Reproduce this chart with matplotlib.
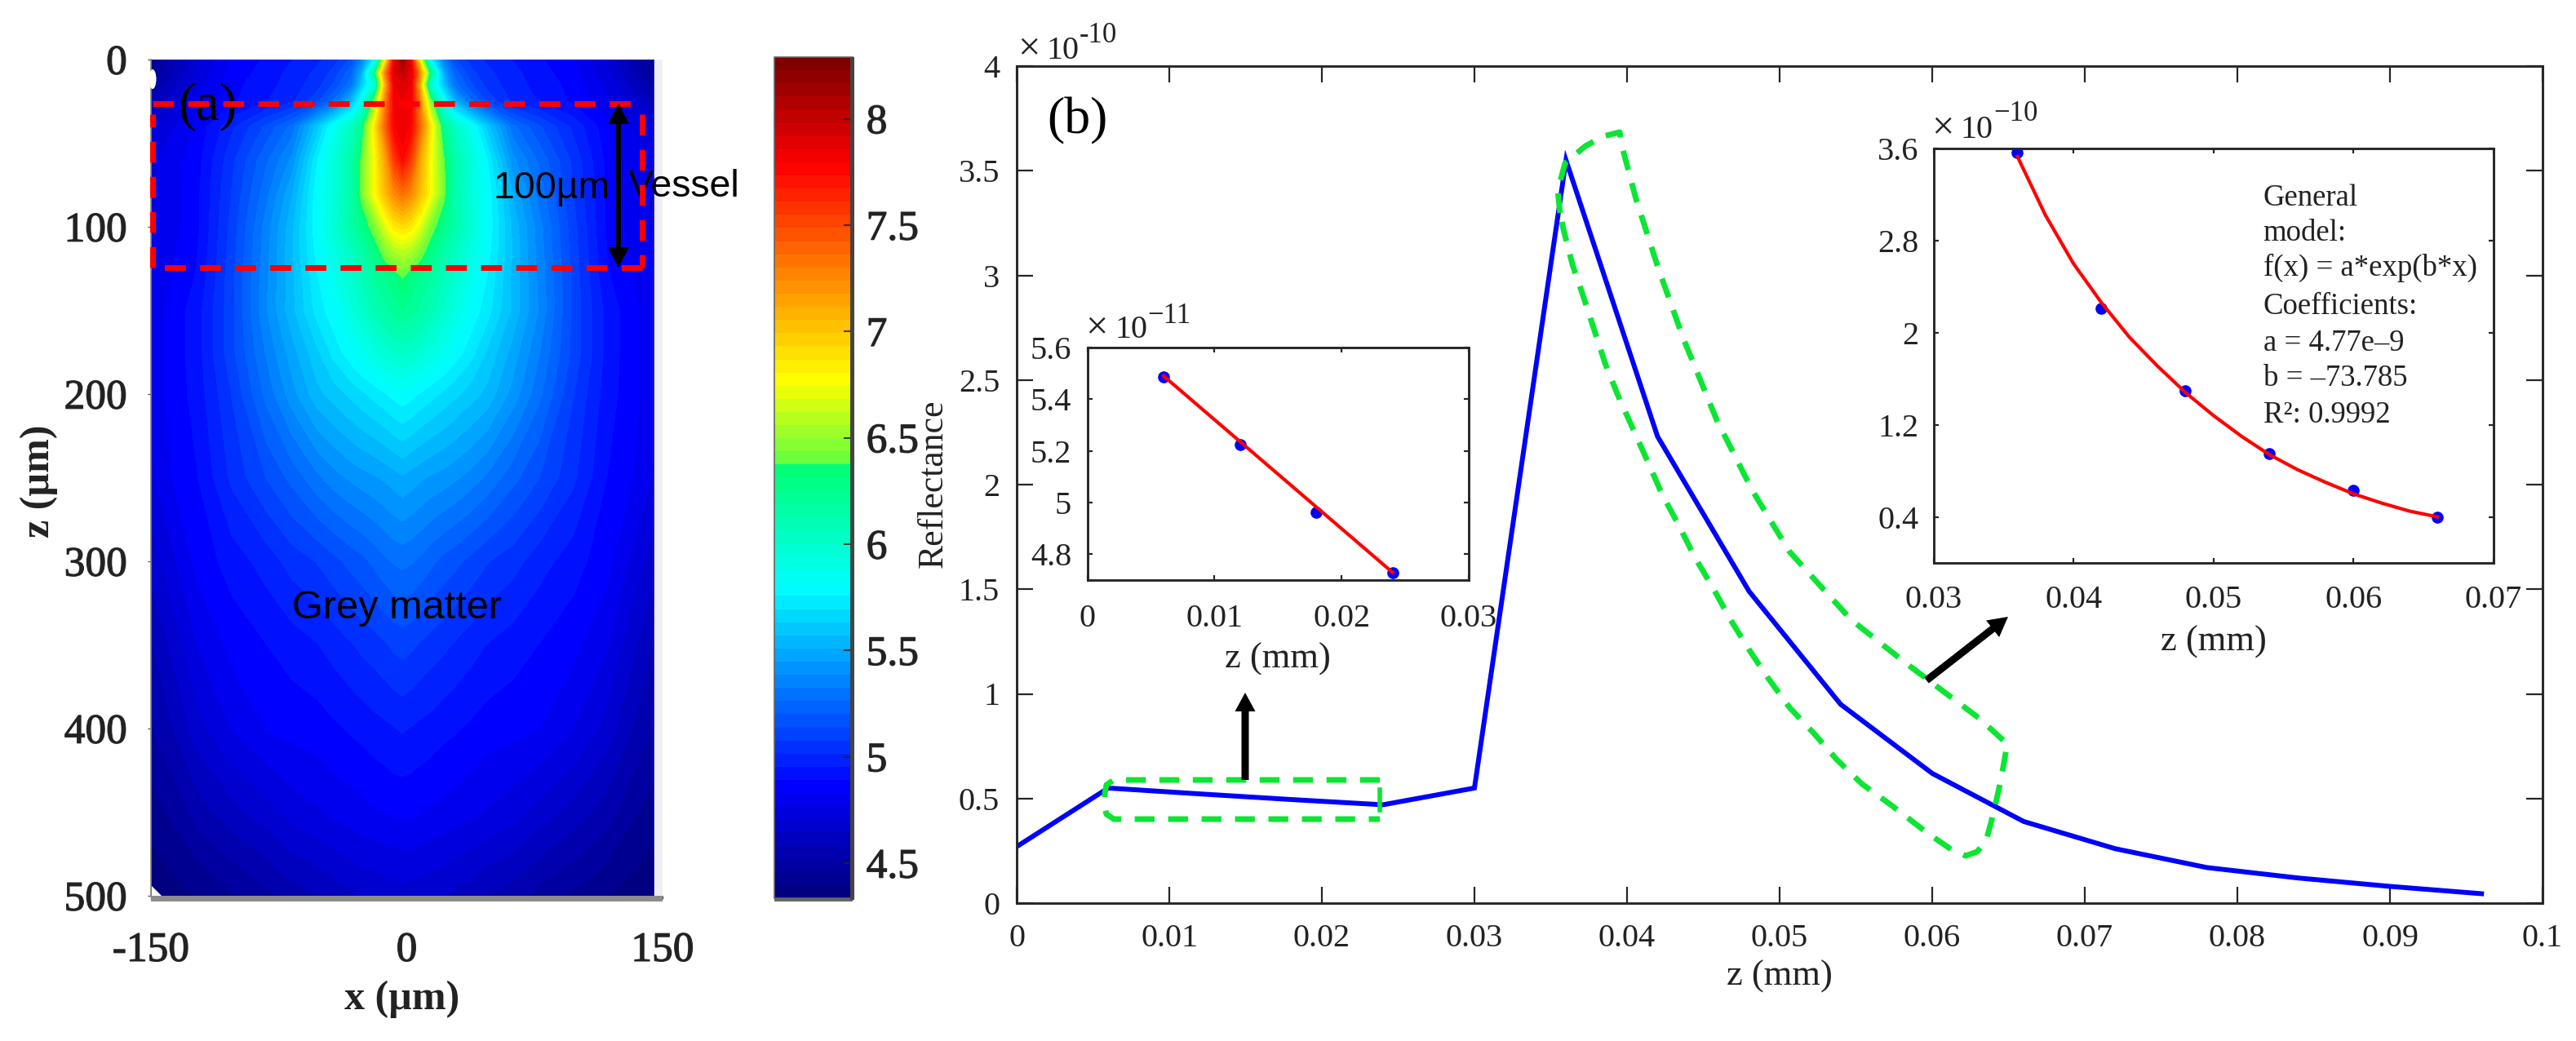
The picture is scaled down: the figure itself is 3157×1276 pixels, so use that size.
import matplotlib
matplotlib.use('Agg')
import matplotlib.pyplot as plt
import matplotlib.patheffects as pe
from matplotlib.colors import LinearSegmentedColormap
from matplotlib.patches import Ellipse, FancyArrow, Polygon, Rectangle
import numpy as np

W, H = 3157, 1276
plt.rcParams['font.family'] = 'Liberation Serif'

# panel (a): values, one half of the plume, mirrored about its centre
plume_offset = [0, 5, 10, 16, 24, 30, 40, 50, 65, 80, 100, 120, 135, 150]
plume_depth = [0, 8, 15, 25, 40, 60, 80, 100, 115, 130, 150, 175, 200, 250, 300, 350, 400, 450, 500]
plume_values = [
    [8.20, 7.80, 6.80, 5.80, 5.35, 5.15, 5.05, 5.00, 4.95, 4.90, 4.84, 4.70, 4.55, 4.40],
    [8.00, 7.90, 7.30, 6.30, 5.50, 5.25, 5.10, 5.03, 4.97, 4.92, 4.85, 4.72, 4.58, 4.42],
    [7.90, 7.85, 7.10, 6.00, 5.60, 5.30, 5.15, 5.05, 4.98, 4.93, 4.87, 4.75, 4.62, 4.47],
    [7.85, 7.80, 7.30, 6.50, 5.85, 5.55, 5.28, 5.12, 5.00, 4.95, 4.88, 4.78, 4.68, 4.55],
    [7.85, 7.78, 7.40, 6.90, 6.25, 6.05, 5.85, 5.60, 5.28, 5.15, 5.00, 4.85, 4.76, 4.68],
    [7.75, 7.55, 7.15, 6.80, 6.40, 6.15, 5.95, 5.75, 5.40, 5.25, 5.06, 4.87, 4.80, 4.75],
    [7.35, 7.25, 7.05, 6.80, 6.42, 6.15, 5.95, 5.80, 5.50, 5.30, 5.08, 4.88, 4.80, 4.75],
    [6.90, 6.85, 6.70, 6.45, 6.27, 6.15, 5.97, 5.80, 5.55, 5.35, 5.10, 4.88, 4.80, 4.75],
    [6.60, 6.55, 6.45, 6.30, 6.15, 6.05, 5.92, 5.78, 5.56, 5.36, 5.11, 4.89, 4.82, 4.77],
    [6.38, 6.30, 6.25, 6.20, 6.07, 6.00, 5.87, 5.75, 5.55, 5.37, 5.12, 4.90, 4.83, 4.77],
    [6.25, 6.22, 6.17, 6.10, 6.00, 5.93, 5.80, 5.72, 5.55, 5.38, 5.12, 4.93, 4.85, 4.78],
    [6.02, 6.00, 5.97, 5.92, 5.85, 5.80, 5.72, 5.62, 5.48, 5.33, 5.12, 4.93, 4.85, 4.78],
    [5.80, 5.78, 5.75, 5.72, 5.68, 5.65, 5.60, 5.55, 5.42, 5.28, 5.08, 4.92, 4.85, 4.78],
    [5.50, 5.48, 5.46, 5.44, 5.42, 5.40, 5.36, 5.31, 5.22, 5.14, 5.03, 4.89, 4.83, 4.74],
    [5.28, 5.27, 5.25, 5.22, 5.18, 5.16, 5.12, 5.08, 5.04, 4.98, 4.92, 4.85, 4.75, 4.65],
    [5.10, 5.09, 5.07, 5.05, 5.03, 5.01, 4.98, 4.95, 4.92, 4.89, 4.85, 4.77, 4.66, 4.56],
    [4.96, 4.95, 4.94, 4.93, 4.91, 4.90, 4.88, 4.86, 4.85, 4.83, 4.77, 4.68, 4.58, 4.50],
    [4.84, 4.84, 4.83, 4.82, 4.81, 4.80, 4.78, 4.76, 4.73, 4.68, 4.62, 4.55, 4.47, 4.42],
    [4.68, 4.67, 4.67, 4.66, 4.65, 4.63, 4.61, 4.58, 4.55, 4.50, 4.45, 4.40, 4.37, 4.34],
]
plume_centre = -2.5
cbar_min, cbar_max = 4.335, 8.29
cbar_ticks = [4.5, 5, 5.5, 6, 6.5, 7, 7.5, 8]
cbar_labels = ['4.5', '5', '5.5', '6', '6.5', '7', '7.5', '8']
cbar_stops = [(4.335, '#000080'), (4.84, '#0000ff'), (5.33, '#0080ff'), (5.79, '#00ffff'),
              (6.376, '#00ff70'), (6.376, '#60ff40'), (6.78, '#ffff00'), (7.30, '#ff8000'),
              (7.80, '#ff0000'), (8.29, '#800000')]

# panel (b)
z_main = [0, 0.006, 0.012, 0.018, 0.024, 0.03, 0.036, 0.042, 0.048, 0.054, 0.06,
          0.066, 0.072, 0.078, 0.084, 0.09, 0.096]
r_main = [0.27, 0.55, 0.522, 0.495, 0.47, 0.55, 3.55, 2.23, 1.49, 0.95, 0.62,
          0.39, 0.26, 0.17, 0.12, 0.08, 0.045]
z_small = [0.006, 0.012, 0.018, 0.024]
r_small = [5.486, 5.224, 4.962, 4.727]
z_small_fit = [0.006, 0.024]
r_small_fit = [5.49, 4.73]
z_decay = [0.036, 0.042, 0.048, 0.054, 0.06, 0.066]
r_decay = [3.565, 2.21, 1.496, 0.95, 0.631, 0.394]
z_decay_fit = [0.036, 0.038, 0.04, 0.042, 0.044, 0.046, 0.048, 0.05, 0.052, 0.054, 0.056,
               0.058, 0.06, 0.062, 0.064, 0.066]
r_decay_fit = [3.53, 3.02, 2.60, 2.26, 1.96, 1.71, 1.48, 1.28, 1.10, 0.94, 0.81,
               0.70, 0.60, 0.52, 0.45, 0.40]
fit_lines = ['General', 'model:', 'f(x) = a*exp(b*x)', 'Coefficients:', 'a = 4.77e\u20139',
             'b = \u201373.785', 'R\u00b2: 0.9992']

# annotation outlines, in pixels of the picture
big_box = [(1912, 261), (1909, 234), (1918, 200), (1925, 194), (1943, 179), (1965, 167), (1985, 162),
           (1988, 180), (2005, 244), (2032, 328), (2063, 415), (2104, 515), (2148, 602), (2193, 676),
           (2229, 716), (2269, 760), (2336, 813), (2389, 853), (2425, 880), (2447, 900), (2460, 912),
           (2452, 957), (2443, 997), (2434, 1031), (2423, 1044), (2409, 1049), (2394, 1043), (2362, 1021),
           (2318, 987), (2282, 961), (2251, 931), (2224, 900), (2193, 867), (2166, 830), (2144, 797),
           (2121, 760), (2099, 720), (2077, 683), (2057, 643), (2037, 606), (2019, 565), (2001, 525),
           (1983, 485), (1967, 445), (1954, 405), (1941, 365), (1927, 324), (1916, 281), (1912, 261)]
small_box = [(1691, 956), (1365, 956), (1356, 962), (1354, 972), (1354, 990), (1356, 998),
             (1365, 1004), (1691, 1004)]
small_box_end = [(1691, 968), (1691, 993)]

SPINE = '#262626'
GREEN = '#0ae632'
BLURRY = [pe.withStroke(linewidth=0.9, foreground='#333333')]


def px_axes(fig, left, top, right, bottom):
    return fig.add_axes([left / W, 1 - bottom / H, (right - left) / W, (bottom - top) / H])


def style_box(ax, tick_len, pad_x, pad_y, size=29):
    for spine in ax.spines.values():
        spine.set_linewidth(2.1)
        spine.set_color(SPINE)
    ax.tick_params(axis='both', direction='in', top=True, right=True, length=tick_len, width=1.6,
                   color=SPINE, labelcolor='#222222', labelsize=size)
    ax.tick_params(axis='x', pad=pad_x)
    ax.tick_params(axis='y', pad=pad_y)


def exponent(ov, x, y, power, up=20, size=29):
    ov.text(x - 3, y, '\u00d7', fontsize=35, ha='left', va='baseline', color='#222222')
    ov.text(x + 33, y, '10', fontsize=size, ha='left', va='baseline', color='#222222')
    ov.text(x + 73, y - up, power, fontsize=25, ha='left', va='baseline', color='#222222')


def draw_arrow(ov, x0, y0, x1, y1, width, head_width, head_length):
    ov.add_patch(FancyArrow(x0, y0, x1 - x0, y1 - y0, width=width, head_width=head_width,
                            head_length=head_length, length_includes_head=True,
                            color='black', lw=0, zorder=6))


fig = plt.figure(figsize=(W / 100, H / 100), dpi=100)

# ---- panel (a)
ax = px_axes(fig, 185, 73, 812, 1098)
half = np.array(plume_values)
field = np.hstack([half[:, :0:-1], half])
xs = np.concatenate([-np.array(plume_offset[:0:-1]), plume_offset]) + plume_centre
cmap = LinearSegmentedColormap.from_list(
    'plume', [((v - cbar_min) / (cbar_max - cbar_min), c) for v, c in cbar_stops], N=64)
levels = np.linspace(cbar_min, cbar_max, 65)
cf = ax.contourf(xs, plume_depth, field, levels=levels, cmap=cmap)
ax.set_xlim(-150, 150)
ax.set_ylim(500, 0)
ax.axvspan(145.2, 150, color='#efefef', zorder=3)
for name in ['top', 'right', 'bottom']:
    ax.spines[name].set_visible(False)
ax.spines['left'].set_color('#888888')
ax.spines['left'].set_linewidth(1.2)
ax.set_xticks([-150, 0, 150])
ax.set_xticklabels(['-150', '0', '150'])
ax.set_yticks([0, 100, 200, 300, 400, 500])
ax.tick_params(axis='both', length=3, width=1, color='#555555', labelsize=37, labelcolor='#222222')
ax.tick_params(axis='x', pad=29)
ax.tick_params(axis='y', pad=18)
for label in ax.get_xticklabels() + ax.get_yticklabels():
    label.set_path_effects(BLURRY)

cax = px_axes(fig, 949, 70, 1045, 1101)
cb = fig.colorbar(cf, cax=cax, ticks=cbar_ticks)
cb.ax.set_yticklabels(cbar_labels)
cb.outline.set_edgecolor('#666666')
cb.outline.set_linewidth(1.2)
cax.tick_params(axis='y', direction='in', length=8, width=1.2, color='#222222', pad=12,
                labelsize=37, labelcolor='#222222')
for label in cax.get_yticklabels():
    label.set_path_effects(BLURRY)

# ---- panel (b)
main = px_axes(fig, 1246, 81, 3116, 1107)
main.plot(z_main, r_main, color='#0000ff', lw=4.3, solid_joinstyle='miter')
main.set_xlim(0, 0.1)
main.set_ylim(0, 4)
main.set_xticks(np.arange(0, 0.101, 0.01))
main.set_xticklabels(['0', '0.01', '0.02', '0.03', '0.04', '0.05', '0.06', '0.07', '0.08', '0.09', '0.1'])
main.set_yticks(np.arange(0, 4.01, 0.5))
main.set_yticklabels(['0', '0.5', '1', '1.5', '2', '2.5', '3', '3.5', '4'])
style_box(main, 14.4, 18, 15)

ins1 = px_axes(fig, 1332.5, 426, 1800, 711)
ins1.plot(z_small, r_small, 'o', color='#0000ff', ms=9.5)
ins1.plot(z_small_fit, r_small_fit, color='#ff0000', lw=3)
ins1.set_xlim(0, 0.03)
ins1.set_ylim(4.7, 5.6)
ins1.set_xticks([0, 0.01, 0.02, 0.03])
ins1.set_xticklabels(['0', '0.01', '0.02', '0.03'])
ins1.set_yticks([4.8, 5, 5.2, 5.4, 5.6])
ins1.set_yticklabels(['4.8', '5', '5.2', '5.4', '5.6'])
style_box(ins1, 4.5, 21, 14)

ins2 = px_axes(fig, 2369.5, 182, 3056, 690)
ins2.plot(z_decay, r_decay, 'o', color='#0000ff', ms=9.5)
ins2.plot(z_decay_fit, r_decay_fit, color='#ff0000', lw=3)
ins2.set_xlim(0.03, 0.07)
ins2.set_ylim(0, 3.6)
ins2.set_xticks([0.03, 0.04, 0.05, 0.06, 0.07])
ins2.set_xticklabels(['0.03', '0.04', '0.05', '0.06', '0.07'])
ins2.set_yticks([0.4, 1.2, 2, 2.8, 3.6])
ins2.set_yticklabels(['0.4', '1.2', '2', '2.8', '3.6'])
style_box(ins2, 4.5, 19.5, 13)

# ---- everything placed by picture position
ov = fig.add_axes([0, 0, 1, 1], zorder=10)
ov.set_xlim(0, W)
ov.set_ylim(H, 0)
ov.axis('off')

ov.add_patch(Rectangle((185, 1098), 627, 7, color='#8c8c8c', lw=0))
ov.add_patch(Rectangle((949, 1101), 96, 4, color='#666666', lw=0))
ov.add_patch(Rectangle((1042, 70), 5, 1033, color='#444444', lw=0))
ov.add_patch(Polygon([(186, 1086), (186, 1098), (198, 1098)], color='white', lw=0))
ov.add_patch(Ellipse((187, 97), 9, 24, color='white', lw=0))

red_top = [(187, 127), (778, 127)]
red_right = [(787, 140), (787, 328)]
red_bottom = [(787, 328), (187, 328)]
red_left = [(187, 328), (187, 140)]
for seg in [red_top, red_right, red_bottom, red_left]:
    ov.plot(*zip(*seg), color='#ff0000', lw=5, dashes=(3.7, 2.5), solid_capstyle='butt',
            dash_capstyle='butt', zorder=4)
draw_arrow(ov, 758, 228, 758, 127, 6, 26, 25)
draw_arrow(ov, 758, 228, 758, 328, 6, 26, 25)

ov.text(218, 147, '(a)', fontsize=47, ha='left', va='baseline', color='black')
ov.text(605, 243, '100\u00b5m', fontsize=33.5, family='Liberation Sans', ha='left', va='baseline')
ov.text(770, 241, 'Vessel', fontsize=33.5, family='Liberation Sans', ha='left', va='baseline')
ov.text(358, 758, 'Grey matter', fontsize=35, family='Liberation Sans', ha='left', va='baseline')
ov.text(493, 1225, 'x (\u00b5m)', fontsize=36, weight='bold', ha='center', va='center', color='#222222')
ov.text(48, 590, 'z (\u00b5m)', fontsize=36, weight='bold', ha='center', va='center', rotation=90,
        color='#222222')

ov.plot(*zip(*big_box), color=GREEN, lw=5, dashes=(3.5, 2.4), dash_capstyle='butt', zorder=5)
ov.plot(*zip(*small_box), color=GREEN, lw=5, dashes=(3.5, 2.4), dash_capstyle='butt', zorder=5)
ov.plot(*zip(*small_box_end), color=GREEN, lw=4, zorder=5)
draw_arrow(ov, 1526, 956, 1526, 849, 9, 25, 23)
draw_arrow(ov, 2361, 834, 2461, 756, 9, 26, 24)

ov.text(1283, 163, '(b)', fontsize=46, ha='left', va='baseline', color='black')
ov.text(1144, 593, 'Reflectance', fontsize=31.5, ha='center', va='center', rotation=90, color='#222222')
ov.text(2181, 1208, 'z (mm)', fontsize=32, ha='center', va='baseline', color='#222222')
ov.text(1566, 819, 'z (mm)', fontsize=32, ha='center', va='baseline', color='#222222')
ov.text(2713, 798, 'z (mm)', fontsize=32, ha='center', va='baseline', color='#222222')

exponent(ov, 1250, 72, '-10')
exponent(ov, 1333, 414, '\u221211', up=18)
exponent(ov, 2370, 169, '\u221210', up=21)

for line, base in zip(fit_lines, [252, 295, 338, 385, 430, 473, 518]):
    ov.text(2773.5, base, line, fontsize=26.5, ha='left', va='baseline', color='#222222')

fig.savefig('out.png', dpi=100)
